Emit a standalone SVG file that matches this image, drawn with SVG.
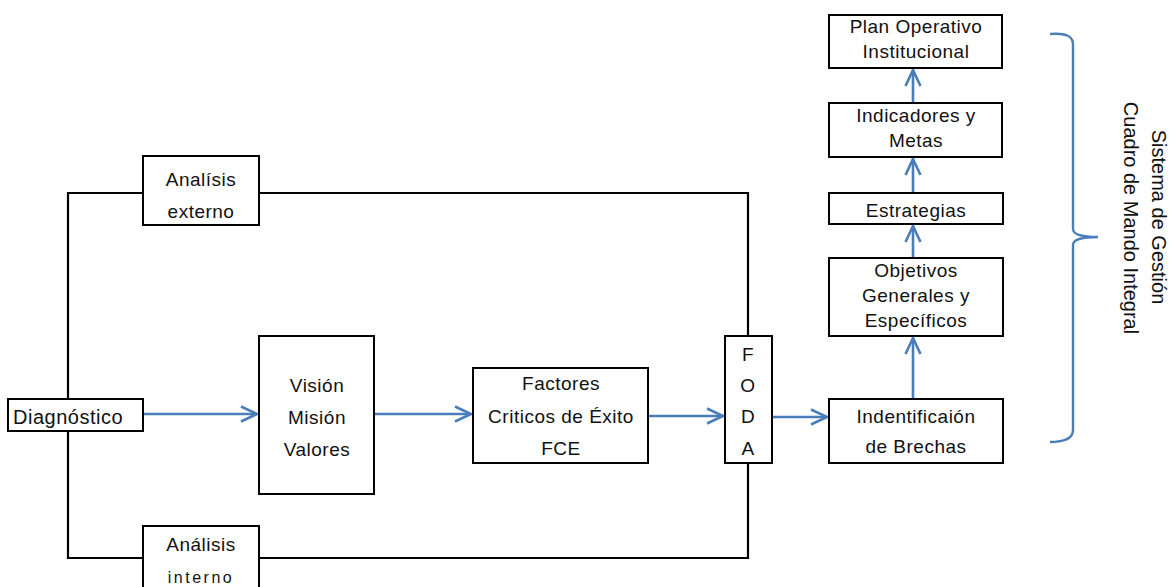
<svg xmlns="http://www.w3.org/2000/svg" width="1169" height="587" viewBox="0 0 1169 587">
<style>
.box{fill:#fff;stroke:#000;stroke-width:2}
.t{font-family:"Liberation Sans",Arial,sans-serif;font-size:19px;letter-spacing:0.5px;fill:#111;text-anchor:middle}
.ln{fill:none;stroke:#000;stroke-width:2.2}
.ar{fill:none;stroke:#4a7ebb;stroke-width:2.6;marker-end:url(#ah)}
</style>
<defs>
<marker id="ah" viewBox="0 0 20 20" refX="18" refY="10" markerWidth="20" markerHeight="20" markerUnits="userSpaceOnUse" orient="auto">
<path d="M2,2.5 L18,10 L2,17.5" fill="none" stroke="#4a7ebb" stroke-width="2.6"/>
</marker>
</defs>
<rect width="1169" height="587" fill="#fff"/>
<g id="connectors">
<path class="ln" d="M68,399 V193 H143 M259,193 H748 V336"/>
<path class="ln" d="M68,431 V558 H143 M259,558 H748 V463"/>
<path class="ar" d="M143,414 H257"/>
<path class="ar" d="M374,414 H471"/>
<path class="ar" d="M648,416 H723"/>
<path class="ar" d="M772,417 H827"/>
<path class="ar" d="M913,399 V338"/>
<path class="ar" d="M913,258 V226"/>
<path class="ar" d="M913,193 V159"/>
<path class="ar" d="M913,103 V70"/>
</g>
<g id="diagnostico"><rect class="box" x="8" y="399" width="135" height="32"/>
<text class="t" x="13" y="424" style="text-anchor:start;font-size:20px">Diagnóstico</text></g>
<g id="analisis-externo"><rect class="box" x="143" y="156" width="116" height="69"/>
<text class="t" x="201" y="186">Analísis</text><text class="t" x="201" y="218">externo</text></g>
<g id="analisis-interno"><rect class="box" x="143" y="526" width="116" height="70"/>
<text class="t" x="201" y="551">Análisis</text><text class="t" x="201" y="583" style="font-size:16px;letter-spacing:2.5px">interno</text></g>
<g id="vision"><rect class="box" x="259" y="336" width="115" height="158"/>
<text class="t" x="317" y="392">Visión</text><text class="t" x="317" y="424">Misión</text><text class="t" x="317" y="456">Valores</text></g>
<g id="factores"><rect class="box" x="473" y="368" width="175" height="95"/>
<text class="t" x="561" y="390">Factores</text><text class="t" x="561" y="423">Criticos de Éxito</text><text class="t" x="561" y="455">FCE</text></g>
<g id="foda"><rect class="box" x="725" y="336" width="47" height="127"/>
<text class="t" x="748" y="361">F</text><text class="t" x="748" y="392">O</text><text class="t" x="748" y="423">D</text><text class="t" x="748" y="455">A</text></g>
<g id="brechas"><rect class="box" x="829" y="399" width="174" height="64"/>
<text class="t" x="916" y="423">Indentificaión</text><text class="t" x="916" y="453">de Brechas</text></g>
<g id="objetivos"><rect class="box" x="829" y="258" width="174" height="78"/>
<text class="t" x="916" y="277">Objetivos</text><text class="t" x="916" y="302">Generales y</text><text class="t" x="916" y="327">Específicos</text></g>
<g id="estrategias"><rect class="box" x="829" y="193" width="174" height="31"/>
<text class="t" x="916" y="217">Estrategias</text></g>
<g id="indicadores"><rect class="box" x="829" y="103" width="173" height="54"/>
<text class="t" x="916" y="122">Indicadores y</text><text class="t" x="916" y="147">Metas</text></g>
<g id="plan"><rect class="box" x="829" y="15" width="173" height="53"/>
<text class="t" x="916" y="33">Plan Operativo</text><text class="t" x="916" y="58">Institucional</text></g>
<g id="brace">
<path d="M1050,34 Q1073,32 1073,44 V229 Q1073,237 1098,237 Q1073,237 1073,245 V430 Q1073,442 1050,442" fill="none" stroke="#4a7ebb" stroke-width="2.4"/>
<text transform="translate(1152,217) rotate(90)" style="font-family:'Liberation Sans',Arial,sans-serif;font-size:20px;fill:#111;text-anchor:middle">Sistema de Gestión</text>
<text transform="translate(1124,218) rotate(90)" style="font-family:'Liberation Sans',Arial,sans-serif;font-size:20px;fill:#111;text-anchor:middle">Cuadro de Mando Integral</text>
</g>
</svg>
